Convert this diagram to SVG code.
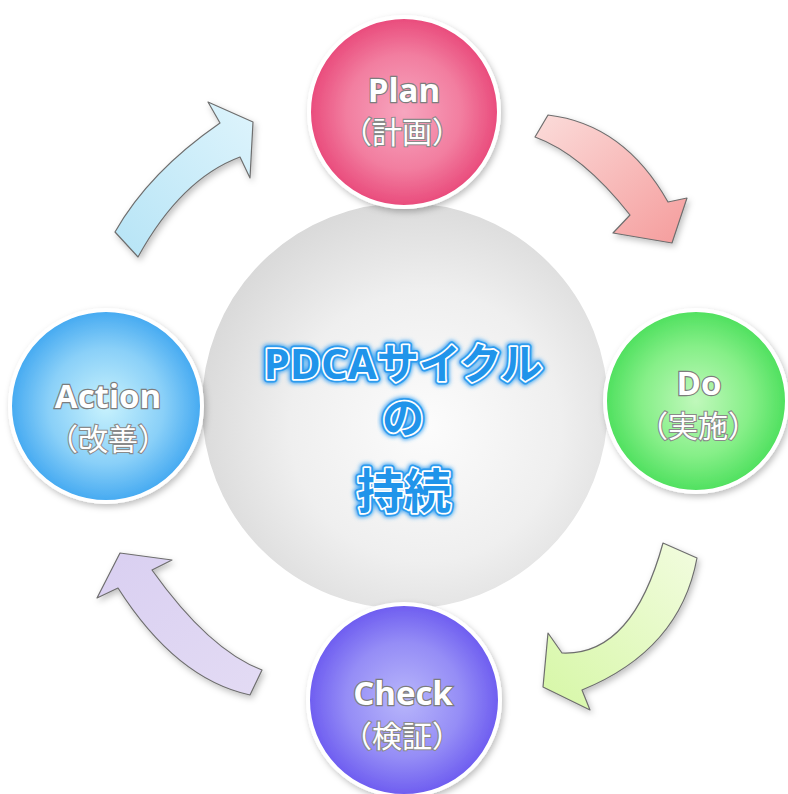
<svg xmlns="http://www.w3.org/2000/svg" width="788" height="794" viewBox="0 0 788 794">
<defs>
<radialGradient id="gGray" cx="0.55" cy="0.55" r="0.6">
<stop offset="0" stop-color="#fcfcfc"/><stop offset="0.55" stop-color="#efefef"/><stop offset="1" stop-color="#d6d6d6"/>
</radialGradient>
<radialGradient id="gPlan" cx="0.5" cy="0.5" r="0.5">
<stop offset="0" stop-color="#f7a6bf"/><stop offset="0.6" stop-color="#f27ea0"/><stop offset="1" stop-color="#e94a7b"/>
</radialGradient>
<radialGradient id="gDo" cx="0.5" cy="0.5" r="0.5">
<stop offset="0" stop-color="#c0f8bb"/><stop offset="0.6" stop-color="#86ef88"/><stop offset="1" stop-color="#4ee05e"/>
</radialGradient>
<radialGradient id="gCheck" cx="0.5" cy="0.5" r="0.5">
<stop offset="0" stop-color="#b8b6fb"/><stop offset="0.6" stop-color="#958df6"/><stop offset="1" stop-color="#6d5cf0"/>
</radialGradient>
<radialGradient id="gAct" cx="0.5" cy="0.5" r="0.5">
<stop offset="0" stop-color="#c8f2fd"/><stop offset="0.6" stop-color="#8ad0f8"/><stop offset="1" stop-color="#44a9f1"/>
</radialGradient>
<linearGradient id="aPink" x1="0" y1="0" x2="1" y2="1">
<stop offset="0" stop-color="#fbdcda"/><stop offset="1" stop-color="#f59c9c"/>
</linearGradient>
<linearGradient id="aGreen" x1="1" y1="0" x2="0" y2="1">
<stop offset="0" stop-color="#f2fcdf"/><stop offset="1" stop-color="#d6f7a6"/>
</linearGradient>
<linearGradient id="aPurple" x1="1" y1="1" x2="0" y2="0">
<stop offset="0" stop-color="#e3dbf4"/><stop offset="1" stop-color="#d9cff1"/>
</linearGradient>
<linearGradient id="aBlue" x1="0" y1="1" x2="1" y2="0">
<stop offset="0" stop-color="#b6e4f6"/><stop offset="1" stop-color="#def4fc"/>
</linearGradient>
<filter id="sh" x="-20%" y="-20%" width="140%" height="140%">
<feDropShadow dx="2" dy="3" stdDeviation="3" flood-color="#000" flood-opacity="0.25"/>
</filter>
<filter id="glow" x="-10%" y="-30%" width="120%" height="160%">
<feGaussianBlur stdDeviation="2"/>
</filter>
</defs>
<style>
.ring{stroke:#ffffff;stroke-width:4}
.arrow{stroke:#6e6e6e;stroke-width:1.2;stroke-linejoin:round;filter:url(#sh)}
.lbl{font-family:"Open Sans","Noto Sans CJK JP",sans-serif;font-weight:bold;fill:#ffffff;stroke:#7d7d7d;stroke-width:2.4;paint-order:stroke;text-anchor:middle}
.sub{font-family:"Noto Sans CJK JP",sans-serif;font-weight:normal;fill:#ffffff;stroke:#8a8a8a;stroke-width:2.2;paint-order:stroke;text-anchor:middle}
.ct{font-family:"Open Sans","Noto Sans CJK JP",sans-serif;font-weight:bold;text-anchor:middle}
.c1{fill:none;stroke:#3aa2f2;stroke-width:9;stroke-linejoin:round;filter:url(#glow)}
.c2{fill:none;stroke:#2d9bee;stroke-width:7;stroke-linejoin:round}
.c3{fill:none;stroke:#ffffff;stroke-width:3.5;stroke-linejoin:round}
.c4{fill:#2094ea}
</style>
<rect width="788" height="794" fill="#ffffff"/>

<g id="center">
<circle cx="405" cy="406" r="205" fill="url(#gGray)" class="ring"/>
<g class="ct" font-size="42">
<text x="403" y="379" class="c1">PDCAサイクル</text>
<text x="403" y="379" class="c2">PDCAサイクル</text>
<text x="403" y="379" class="c3">PDCAサイクル</text>
<text x="403" y="379" class="c4">PDCAサイクル</text>
</g>
<g class="ct" font-size="42">
<text x="403" y="433" class="c1">の</text>
<text x="403" y="433" class="c2">の</text>
<text x="403" y="433" class="c3">の</text>
<text x="403" y="433" class="c4">の</text>
</g>
<g class="ct" font-size="47">
<text x="404" y="508" class="c1">持続</text>
<text x="404" y="508" class="c2">持続</text>
<text x="404" y="508" class="c3">持続</text>
<text x="404" y="508" class="c4">持続</text>
</g>
</g>

<g id="connectors">
<path class="arrow" fill="url(#aPink)" d="M548,115 Q624,124 668,202 L687,198 L672,243 L613,233 L630,215 Q582,154 535,137 Z"/>
<path class="arrow" fill="url(#aGreen)" d="M663,543 L697,558 Q680,650 582,690 L590,710 L543,687 L548,633 L562,653 Q632,656 663,543 Z"/>
<path class="arrow" fill="url(#aPurple)" d="M262,670 L250,695 Q176,679 118,588 L97,598 L120,553 L172,560 L152,570 Q209,650 262,670 Z"/>
<path class="arrow" fill="url(#aBlue)" d="M115,232 Q149,172 220,123 L208,102 L253,122 L250,178 L240,157 Q181,179 138,257 Z"/>
</g>

<g id="plan">
<circle cx="404" cy="112" r="95" fill="url(#gPlan)" class="ring" filter="url(#sh)"/>
<text x="404" y="102" class="lbl" font-size="33">Plan</text>
<text x="402" y="143" class="sub" font-size="30">（計画）</text>
</g>

<g id="do">
<circle cx="696" cy="401" r="91" fill="url(#gDo)" class="ring" filter="url(#sh)"/>
<text x="699" y="395" class="lbl" font-size="33">Do</text>
<text x="698" y="437" class="sub" font-size="30">（実施）</text>
</g>

<g id="check">
<circle cx="404" cy="700" r="96" fill="url(#gCheck)" class="ring" filter="url(#sh)"/>
<text x="403" y="705" class="lbl" font-size="33">Check</text>
<text x="402" y="747" class="sub" font-size="30">（検証）</text>
</g>

<g id="action">
<circle cx="106" cy="406" r="96" fill="url(#gAct)" class="ring" filter="url(#sh)"/>
<text x="108" y="408" class="lbl" font-size="33">Action</text>
<text x="108" y="450" class="sub" font-size="30">（改善）</text>
</g>
</svg>
